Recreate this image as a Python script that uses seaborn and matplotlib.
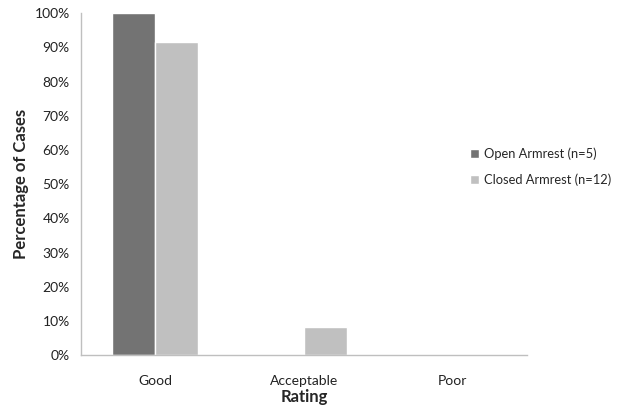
import seaborn as sns
import pandas as pd
import matplotlib.pyplot as plt
from matplotlib.ticker import PercentFormatter

# data
ratings = ["Good", "Acceptable", "Poor"]
open_armrest = [100.0, 0.0, 0.0]
closed_armrest = [91.67, 8.33, 0.0]
groups = ["Open Armrest (n=5)", "Closed Armrest (n=12)"]

df = pd.DataFrame({
    "Rating": ratings * 2,
    "Percent": open_armrest + closed_armrest,
    "Group": [groups[0]] * 3 + [groups[1]] * 3,
})

sns.set_style("white")
plt.rcParams["font.family"] = ["Lato", "DejaVu Sans"]

fig = plt.figure(figsize=(6.18, 4.12), dpi=100)
ax = fig.add_axes([0.131, 0.138, 0.722, 0.830])

sns.barplot(
        data = df,
        x = "Rating",
        y = "Percent",
        hue = "Group",
        palette = ["#737373", "#c0c0c0"],
        width = 0.58,
        saturation = 1,
        ax = ax
        )

ax.set_ylim(0, 100)
ax.set_xlim(-0.5, 2.5)
ax.set_yticks(range(0, 101, 10))
ax.yaxis.set_major_formatter(PercentFormatter(decimals=0))

# category separators on the x axis, labels centered
ax.set_xticks([-0.5, 0.5, 1.5, 2.5])
ax.set_xticklabels([])
ax.set_xticks([0, 1, 2], minor=True)
ax.set_xticklabels(ratings, minor=True)
ax.tick_params(axis="x", which="minor", length=0, pad=14, labelsize=10)
ax.tick_params(axis="x", which="major", length=5, direction="out")
ax.tick_params(axis="y", length=4, direction="out", labelsize=10, pad=4)
ax.tick_params(axis="both", which="both", color="#bfbfbf", labelcolor="#222222")

for s in ["top", "right"]:
    ax.spines[s].set_visible(False)
for s in ["left", "bottom"]:
    ax.spines[s].set_color("#bfbfbf")
    ax.spines[s].set_linewidth(1)

ax.set_xlabel("Rating", fontsize=12, fontweight="bold", labelpad=2)
ax.set_ylabel("Percentage of Cases", fontsize=12, fontweight="bold", labelpad=4)

handles, labels = ax.get_legend_handles_labels()
ax.legend(handles, labels, loc="center left", bbox_to_anchor=(0.76, 0.595),
          bbox_transform=fig.transFigure, frameon=False, fontsize=9.3,
          handlelength=0.7, handleheight=0.7, handletextpad=0.4, labelspacing=1.0,
          borderpad=0, borderaxespad=0)

fig.savefig("out.png", dpi=100)
